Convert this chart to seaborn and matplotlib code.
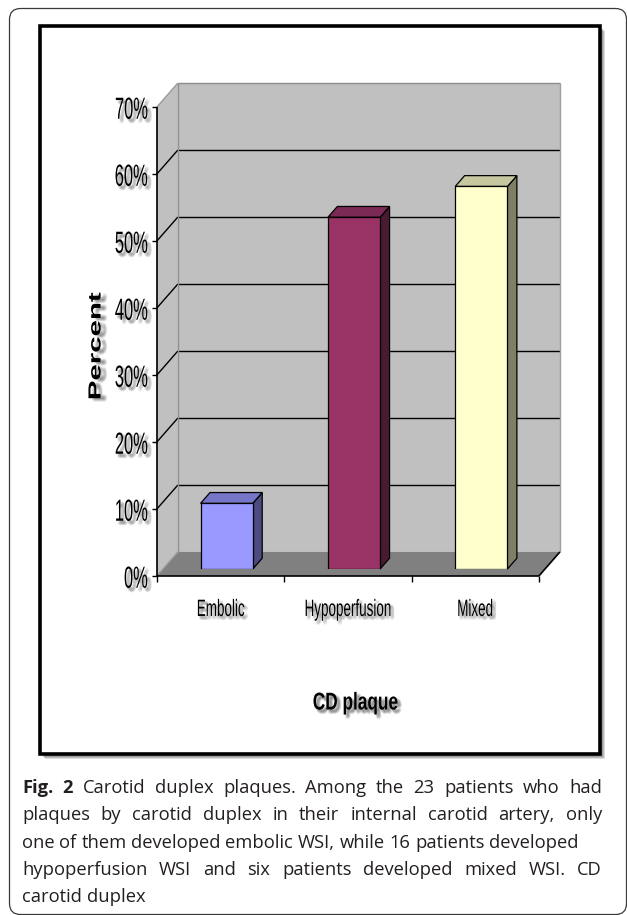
import matplotlib
matplotlib.use("Agg")
import matplotlib.pyplot as plt
import seaborn as sns
from matplotlib.patches import Polygon, Rectangle, FancyBboxPatch
from matplotlib.patheffects import AbstractPathEffect
from matplotlib.transforms import Affine2D

# ---- data -------------------------------------------------------------
categories = ["Embolic", "Hypoperfusion", "Mixed"]
percent = [9.8, 52.5, 57.1]
y_ticks = [0, 10, 20, 30, 40, 50, 60, 70]
y_tick_labels = ["0%", "10%", "20%", "30%", "40%", "50%", "60%", "70%"]
x_title = "CD plaque"
y_title = "Percent"

face_colors = ["#9999FF", "#993366", "#FFFFCC"]
side_colors = ["#4B4B82", "#4A1A33", "#7F7F66"]
top_colors = ["#7676C8", "#7B2A55", "#C8C8A0"]

caption_lines = [
    "Fig. 2 Carotid duplex plaques. Among the 23 patients who had",
    "plaques by carotid duplex in their internal carotid artery, only",
    "one of them developed embolic WSI, while 16 patients developed",
    "hypoperfusion WSI and six patients developed mixed WSI. CD",
    "carotid duplex",
]
caption_justified = [True, True, False, True, False]

W, H = 627, 915
fig = plt.figure(figsize=(W / 100, H / 100), dpi=100)
sns.set_style("white")
plt.rcParams["font.family"] = ["Liberation Sans", "DejaVu Sans"]


class Condensed(AbstractPathEffect):
    """Squeeze/stretch text glyphs around an anchor and add a soft shadow."""

    def __init__(self, sx=1.0, sy=1.0, anchor="center", shadow=(3, -3),
                 shadow_alpha=0.09):
        super().__init__()
        self.sx, self.sy, self.anchor = sx, sy, anchor
        self.shadow, self.shadow_alpha = shadow, shadow_alpha

    def draw_path(self, renderer, gc, tpath, affine, rgbFace=None):
        bb = tpath.get_extents(affine)
        cx = {"left": bb.x0, "right": bb.x1,
              "center": 0.5 * (bb.x0 + bb.x1)}[self.anchor]
        cy = 0.5 * (bb.y0 + bb.y1)
        aff = affine + Affine2D().translate(-cx, -cy).scale(
            self.sx, self.sy).translate(cx, cy)
        if self.shadow is not None:
            g = renderer.new_gc()
            g.copy_properties(gc)
            g.set_linewidth(0)
            g.set_alpha(self.shadow_alpha)
            ox, oy = self.shadow
            for jx, jy in [(0, 0), (-1.5, 0), (1.5, 0), (0, -1.5), (0, 1.5),
                           (1, 1), (-1, -1), (1, -1), (-1, 1)]:
                renderer.draw_path(g, tpath,
                                   aff + Affine2D().translate(ox + jx, oy + jy),
                                   (0.25, 0.25, 0.25))
            g.restore()
        renderer.draw_path(gc, tpath, aff, rgbFace)


# ---- page background, frames -----------------------------------------
bg = fig.add_axes([0, 0, 1, 1], zorder=0)
bg.set_xlim(0, W)
bg.set_ylim(H, 0)
bg.axis("off")

bg.add_patch(FancyBboxPatch((9.5, 8.5), 617, 906,
                            boxstyle="round,pad=0,rounding_size=11",
                            fc="white", ec="#3a3a3a", lw=0.9, clip_on=False))
for k, a in [(5, 0.25), (4, 0.35), (3, 0.45)]:
    bg.add_patch(Rectangle((40 + k, 26 + k), 560, 728, fc="#7a7a7a",
                           ec="none", alpha=a))
bg.add_patch(Rectangle((40, 26), 560, 728, fc="white", ec="black", lw=2.6))

# ---- chart axes (plane through the bar fronts) -------------------------
ax_l, ax_r, ax_b, ax_t = 163, 545, 569, 100
ax = fig.add_axes([ax_l / W, 1 - ax_b / H, (ax_r - ax_l) / W, (ax_b - ax_t) / H],
                  zorder=2)
ax.patch.set_visible(False)

BAR_W = 0.41
sns.barplot(x=categories, y=percent, hue=categories, palette=face_colors,
            width=BAR_W, saturation=1, edgecolor="black", linewidth=0.9,
            legend=False, ax=ax)
ax.set_xlim(-0.5, len(categories) - 0.5)
ax.set_ylim(y_ticks[0], y_ticks[-1])
ax.axis("off")

px_x = (ax_r - ax_l) / len(categories)
px_y = (ax_b - ax_t) / (y_ticks[-1] - y_ticks[0])
DX, DY = 21, 24          # depth of the box, in pixels
D_BAR, D_LEN = 0.29, 0.45  # bar position/length along the depth


def off(d):
    return ((d - D_BAR) * DX / px_x, (d - D_BAR) * DY / px_y)


def pt(x, y, d):
    ox, oy = off(d)
    return (x + ox, y + oy)


x0, x1 = -0.5, len(categories) - 0.5
ymin, ymax = y_ticks[0], y_ticks[-1]

# back wall, side wall, floor
ax.add_patch(Polygon([pt(x0, ymin, 1), pt(x1, ymin, 1), pt(x1, ymax, 1),
                      pt(x0, ymax, 1)], fc="#C0C0C0", ec="none",
                     zorder=-5, clip_on=False))
ax.add_patch(Polygon([pt(x0, ymin, 0), pt(x0, ymax, 0), pt(x0, ymax, 1),
                      pt(x0, ymin, 1)], fc="#C0C0C0", ec="none",
                     zorder=-5, clip_on=False))
ax.add_patch(Polygon([pt(x0, ymin, 0), pt(x1, ymin, 0), pt(x1, ymin, 1),
                      pt(x0, ymin, 1)], fc="#808080", ec="none",
                     zorder=-4, clip_on=False))


def seg(p, q, color="black", lw=1.0, z=-3):
    ax.plot([p[0], q[0]], [p[1], q[1]], color=color, lw=lw, zorder=z,
            clip_on=False, solid_capstyle="butt")


for v in y_ticks:
    inner = ymin < v < ymax
    c = "black" if inner else "#8c8c8c"
    if v > ymin:
        seg(pt(x0, v, 1), pt(x1, v, 1), color=c, lw=1.0)
    seg(pt(x0, v, 0), pt(x0, v, 1), color=c if inner else "#9a9a9a", lw=1.0)
seg(pt(x0, ymin, 1), pt(x0, ymax, 1), color="#909090", lw=1.0)
seg(pt(x1, ymin, 1), pt(x1, ymax, 1), color="#a0a0a0", lw=1.0)

# front axis line, ticks and floor edges
seg(pt(x0, ymin, 0), pt(x0, ymax, 0), color="black", lw=1.2, z=1)
seg(pt(x0, ymin, 0), pt(x1, ymin, 0), color="black", lw=1.2, z=1)
seg(pt(x1, ymin, 0), pt(x1, ymin, 1), color="black", lw=1.2, z=1)

TICK_FS = 13.0
for v, lab in zip(y_ticks, y_tick_labels):
    px0, py0 = pt(x0, v, 0)
    seg((px0 - 5 / px_x, py0), (px0, py0), color="black", lw=1.0, z=1)
    t = ax.text(px0 - 9 / px_x, py0 - 3 / px_y, lab, ha="right", va="center",
                fontsize=TICK_FS, color="black", clip_on=False, zorder=4)
    t.set_path_effects([Condensed(sx=0.54 * 22 / TICK_FS, sy=22 / TICK_FS,
                                  anchor="right", shadow=(3, -3))])

for k in range(len(categories) + 1):
    px0, py0 = pt(x0 + k, ymin, 0)
    seg((px0, py0), (px0, py0 - 6 / px_y), color="black", lw=1.0, z=1)

for i, lab in enumerate(categories):
    cx, cy = pt(i, ymin, 0)
    t = ax.text(cx, cy - 34 / px_y, lab, ha="center", va="center",
                fontsize=17, color="black", clip_on=False, zorder=4)
    t.set_path_effects([Condensed(sx=0.57, anchor="center", shadow=(2.5, -2.5))])

# bar side and top faces built from the seaborn bars
bars = sorted([p for p in ax.patches if isinstance(p, Rectangle)
               and p.get_width() < 1], key=lambda p: p.get_x())
for p, sc, tc in zip(bars, side_colors, top_colors):
    p.set_zorder(3)
    bx0, bw, bh = p.get_x(), p.get_width(), p.get_height()
    bx1 = bx0 + bw
    d0, d1 = D_BAR, D_BAR + D_LEN
    ax.add_patch(Polygon([pt(bx1, 0, d0), pt(bx1, bh, d0), pt(bx1, bh, d1),
                          pt(bx1, 0, d1)], fc=sc, ec="black", lw=0.9,
                         zorder=2, clip_on=False))
    ax.add_patch(Polygon([pt(bx0, bh, d0), pt(bx1, bh, d0), pt(bx1, bh, d1),
                          pt(bx0, bh, d1)], fc=tc, ec="black", lw=0.9,
                         zorder=2, clip_on=False))

# axis titles
t = bg.text(355.5, 703, x_title, ha="center", va="center", fontsize=17.5,
            fontweight="bold", color="black", zorder=5)
t.set_path_effects([Condensed(sx=0.71, anchor="center", shadow=(3, -3),
                              shadow_alpha=0.1)])
t = bg.text(96, 346, y_title, ha="center", va="center", fontsize=12.6,
            fontweight="bold", rotation=90, color="black", zorder=5)
t.set_path_effects([Condensed(sx=1.0, sy=1.68, anchor="center",
                              shadow=(5, -2), shadow_alpha=0.08)])

# ---- caption ----------------------------------------------------------
renderer = fig.canvas.get_renderer()
cap_font = ["Open Sans", "DejaVu Sans"]
cap_color = "#231f20"


def text_width(s, size, weight="normal"):
    tt = bg.text(0, 0, s, fontsize=size, family=cap_font, fontweight=weight)
    w = tt.get_window_extent(renderer).width
    tt.remove()
    return w


cap_size = 12.0 * 553 / text_width(caption_lines[2], 12.0)
space_w = text_width("x x", cap_size) - text_width("xx", cap_size)
left, right = 22, 602
baselines = [793, 820.3, 847.5, 874.8, 902]

for li, (line, just, yb) in enumerate(zip(caption_lines, caption_justified,
                                          baselines)):
    words = line.split(" ")
    weights = ["bold" if (li == 0 and wi < 2) else "normal"
               for wi in range(len(words))]
    widths = [text_width(w, cap_size, wt) for w, wt in zip(words, weights)]
    gap = (right - left - sum(widths)) / (len(words) - 1) if just else space_w
    x = left
    for w, wt, wd in zip(words, weights, widths):
        bg.text(x, yb, w, fontsize=cap_size, family=cap_font, fontweight=wt,
                color=cap_color, ha="left", va="baseline", zorder=5)
        x += wd + gap

fig.savefig("out.png", dpi=100)
